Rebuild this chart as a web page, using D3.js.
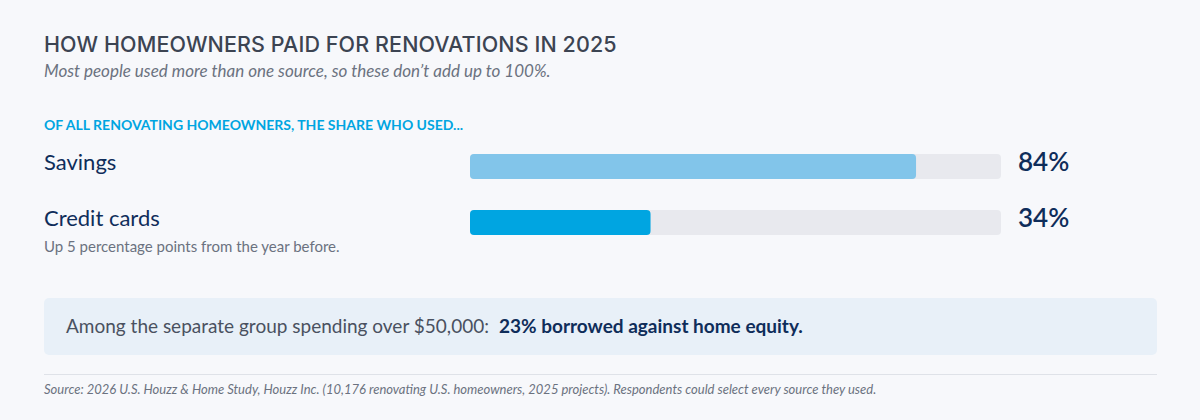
<!DOCTYPE html>
<html lang="en">
<head>
<meta charset="utf-8">
<title>How homeowners paid for renovations</title>
<script src="https://cdn.jsdelivr.net/npm/d3@7"></script>
<style>
  body { margin: 0; background: #f7f8fb; }
  svg { display: block; }
</style>
</head>
<body>
<script>
// data
var sources = ["Savings", "Credit cards"];
var shares = [84, 34];
var notes = ["", "Up 5 percentage points from the year before."];
var barColors = ["#82c5ea", "#00a5e1"];
var calloutLead = "Among the separate group spending over $50,000:";
var calloutValue = "23% borrowed against home equity.";

var w = 1200, h = 420;

var svg = d3.select("body").append("svg")
    .attr("width", w)
    .attr("height", h);

svg.append("rect")
    .attr("width", w).attr("height", h)
    .attr("fill", "#f7f8fb");

// title block
svg.append("text")
    .attr("x", 44).attr("y", 52)
    .attr("font-family", "Inter, sans-serif")
    .attr("font-weight", 500)
    .attr("font-size", "21.5px")
    .attr("letter-spacing", "0.1px")
    .attr("fill", "#3c4452")
    .text("HOW HOMEOWNERS PAID FOR RENOVATIONS IN 2025");

svg.append("text")
    .attr("x", 44).attr("y", 77)
    .attr("font-family", "Lato, sans-serif")
    .attr("font-style", "italic")
    .attr("font-size", "17px")
    .attr("fill", "#6b7280")
    .text("Most people used more than one source, so these don\u2019t add up to 100%.");

svg.append("text")
    .attr("x", 44).attr("y", 130)
    .attr("font-family", "Lato, sans-serif")
    .attr("font-weight", 700)
    .attr("font-size", "14px")
    .attr("fill", "#00a5e1")
    .text("OF ALL RENOVATING HOMEOWNERS, THE SHARE WHO USED...");

// scales
var x = d3.scaleLinear()
    .domain([0, 100])
    .range([470, 1001]);

var y = d3.scaleBand()
    .domain(sources)
    .range([138.5, 250.5]);

var barH = 25;
function mid(d) { return y(d) + y.bandwidth() / 2; }

var rows = svg.selectAll("g.row")
    .data(sources)
    .enter()
    .append("g")
    .attr("class", "row");

// track
rows.append("rect")
    .attr("x", x(0))
    .attr("y", function (d) { return mid(d) - barH / 2; })
    .attr("width", x(100) - x(0))
    .attr("height", barH)
    .attr("rx", 4)
    .attr("fill", "#e8e9ee");

// bar
rows.append("rect")
    .attr("x", x(0))
    .attr("y", function (d) { return mid(d) - barH / 2; })
    .attr("width", function (d, i) { return x(shares[i]) - x(0); })
    .attr("height", barH)
    .attr("rx", 4)
    .attr("fill", function (d, i) { return barColors[i]; });

// labels
rows.append("text")
    .attr("x", 44)
    .attr("y", function (d) { return mid(d) + 3.5; })
    .attr("font-family", "Lato, sans-serif")
    .attr("font-size", "22px")
    .attr("fill", "#0f2d5a")
    .text(function (d) { return d; });

rows.append("text")
    .attr("x", 44)
    .attr("y", function (d) { return mid(d) + 29; })
    .attr("font-family", "Lato, sans-serif")
    .attr("font-size", "15px")
    .attr("fill", "#6b7280")
    .text(function (d, i) { return notes[i]; });

rows.append("text")
    .attr("x", x(100) + 17)
    .attr("y", function (d) { return mid(d) + 4; })
    .attr("font-family", "Lato, sans-serif")
    .attr("font-weight", 600)
    .attr("font-size", "26px")
    .attr("fill", "#0f2d5a")
    .text(function (d, i) { return shares[i] + "%"; });

// callout
svg.append("rect")
    .attr("x", 44).attr("y", 298)
    .attr("width", 1113).attr("height", 57)
    .attr("rx", 5)
    .attr("fill", "#e8f0f8");

var callout = svg.append("text")
    .attr("x", 66).attr("y", 333)
    .attr("font-family", "Lato, sans-serif")
    .attr("font-size", "19px");

callout.append("tspan")
    .attr("fill", "#4a5160")
    .text(calloutLead);

callout.append("tspan")
    .attr("dx", 10)
    .attr("font-weight", 700)
    .attr("fill", "#0f2d5a")
    .text(calloutValue);

// divider and source
svg.append("line")
    .attr("x1", 44).attr("x2", 1157)
    .attr("y1", 374.5).attr("y2", 374.5)
    .attr("stroke", "#dfe2e8")
    .attr("stroke-width", 1);

svg.append("text")
    .attr("x", 44).attr("y", 394)
    .attr("font-family", "Lato, sans-serif")
    .attr("font-style", "italic")
    .attr("font-size", "13px")
    .attr("fill", "#6b7280")
    .text("Source: 2026 U.S. Houzz & Home Study, Houzz Inc. (10,176 renovating U.S. homeowners, 2025 projects). Respondents could select every source they used.");
</script>
</body>
</html>
